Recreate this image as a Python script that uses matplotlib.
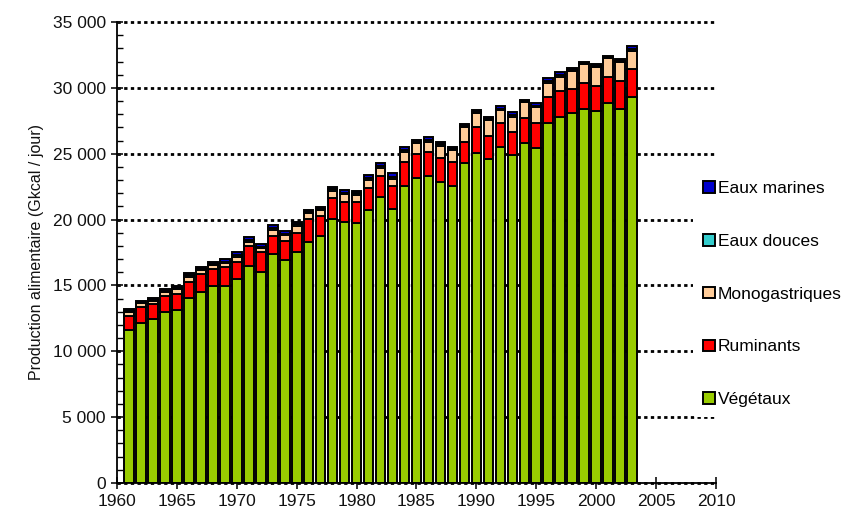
import matplotlib
matplotlib.use('Agg')
import matplotlib.pyplot as plt
import matplotlib.ticker as ticker
import numpy as np

# Production alimentaire mondiale par origine (Gkcal / jour), 1961-2003
years = list(range(1961, 2004))

vegetaux = [11620, 12130, 12430, 13010, 13140, 14070, 14530, 14960, 14960, 15470,
            16500, 16040, 17390, 16930, 17540, 18320, 18750, 20020, 19840, 19720,
            20730, 21690, 20780, 22550, 23180, 23330, 22880, 22570, 24270, 25030,
            24600, 25490, 24900, 25790, 25460, 27310, 27770, 28070, 28400, 28270,
            28830, 28400, 29330]

ruminants = [1080, 1210, 1140, 1190, 1210, 1220, 1340, 1270, 1420, 1290,
             1500, 1470, 1390, 1450, 1420, 1700, 1550, 1600, 1520, 1590,
             1690, 1640, 1790, 1850, 1800, 1830, 1820, 1830, 1650, 1980,
             1770, 1820, 1780, 1900, 1850, 1980, 1990, 1820, 1950, 1900,
             1970, 2150, 2100]

monogastriques = [310, 300, 270, 330, 360, 380, 300, 320, 300, 380,
                  320, 310, 430, 450, 550, 460, 430, 580, 580, 560,
                  590, 560, 510, 760, 810, 760, 890, 880, 1090, 1060,
                  1190, 1010, 1090, 1260, 1220, 1060, 1090, 1420, 1440, 1440,
                  1450, 1390, 1400]

eaux_douces = [60, 60, 80, 80, 90, 90, 90, 90, 110, 150,
               130, 120, 140, 110, 120, 90, 90, 110, 110, 110,
               140, 160, 160, 140, 90, 120, 120, 100, 90, 90,
               80, 110, 160, 50, 110, 140, 120, 70, 70, 70,
               80, 90, 140]

eaux_marines = [110, 110, 140, 130, 150, 150, 150, 150, 190, 260,
                240, 200, 230, 180, 200, 150, 150, 180, 190, 180,
                230, 260, 270, 230, 150, 200, 200, 150, 150, 150,
                120, 190, 260, 80, 180, 230, 210, 110, 110, 110,
                120, 160, 220]

series = [
    ('Végétaux', vegetaux, '#99CC00'),
    ('Ruminants', ruminants, '#FF0000'),
    ('Monogastriques', monogastriques, '#FFCC99'),
    ('Eaux douces', eaux_douces, '#33CCCC'),
    ('Eaux marines', eaux_marines, '#0000CC'),
]

plt.rcParams['font.family'] = ['Liberation Sans', 'DejaVu Sans']

fig = plt.figure(figsize=(8.65, 5.18), dpi=100)
ax = fig.add_axes([0.1353, 0.0676, 0.6924, 0.8899])

# Stacked bars
bottom = np.zeros(len(years))
handles = []
for label, values, color in series:
    h = ax.bar(years, values, width=0.8, bottom=bottom, color=color,
               edgecolor='black', linewidth=1.4, label=label, zorder=3)
    handles.append(h)
    bottom += np.array(values)

# Dotted horizontal gridlines
ax.yaxis.grid(True, color='black', linestyle=(0, (1.2, 1.2)), linewidth=2.0, zorder=1)
ax.xaxis.grid(False)

ax.set_xlim(1960, 2010)
ax.set_ylim(0, 35000)
ax.xaxis.set_major_locator(ticker.MultipleLocator(5))
ax.yaxis.set_major_locator(ticker.MultipleLocator(5000))
ax.yaxis.set_minor_locator(ticker.MultipleLocator(1000))
ax.yaxis.set_major_formatter(ticker.FuncFormatter(
    lambda v, p: '{:,.0f}'.format(v).replace(',', ' ')))
for line in ax.get_ygridlines():
    line.set_clip_on(False)

for side in ['top', 'right']:
    ax.spines[side].set_visible(False)
for side in ['left', 'bottom']:
    ax.spines[side].set_linewidth(1.3)
    ax.spines[side].set_zorder(4)

ax.tick_params(axis='both', which='major', direction='inout', length=8, width=1.2,
               labelsize=12.5, colors='#111111', pad=4)
ax.tick_params(axis='y', which='minor', direction='in', length=4, width=1.0)
ax.set_ylabel('Production alimentaire (Gkcal / jour)', fontsize=11.5, labelpad=6,
              color='#111111')

# Legend, top entry is the last series
legend = ax.legend(handles[::-1], [s[0] for s in series][::-1],
                   loc='center left', bbox_to_anchor=(0.801, 0.432),
                   bbox_transform=fig.transFigure, frameon=True,
                   facecolor='white', edgecolor='none', framealpha=1,
                   fontsize=12.5, labelspacing=2.17, handlelength=0.65,
                   handleheight=0.65, handletextpad=0.2, borderpad=0.6,
                   borderaxespad=0)
legend.set_zorder(5)

fig.savefig('out.png', dpi=100)
plt.close()
